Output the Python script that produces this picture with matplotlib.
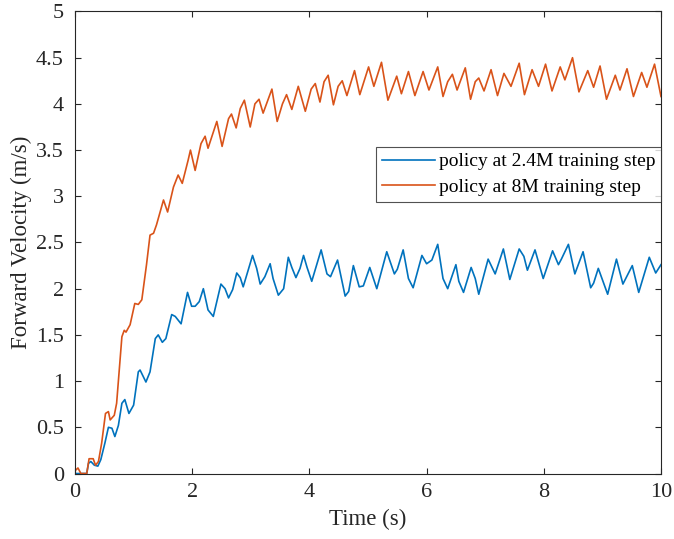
import matplotlib.pyplot as plt

# Forward velocity traces (time in s, velocity in m/s)
t_24m = [
    0.00, 0.20, 0.23, 0.27, 0.33, 0.39, 0.44, 0.51, 0.57, 0.63, 0.68, 0.74, 0.80, 0.85, 0.92,
    1.00, 1.08, 1.11, 1.21, 1.28, 1.37, 1.42, 1.49, 1.55, 1.65, 1.71, 1.81, 1.92, 1.99,
    2.05, 2.12, 2.19, 2.27, 2.36, 2.49, 2.56, 2.62, 2.69, 2.76, 2.82, 2.87,
    3.03, 3.10, 3.16, 3.24, 3.33, 3.38, 3.47, 3.56, 3.64, 3.70, 3.77, 3.84, 3.90, 3.96,
    4.04, 4.20, 4.30, 4.36, 4.48, 4.61, 4.67, 4.75, 4.85, 4.92,
    5.03, 5.15, 5.32, 5.45, 5.50, 5.60, 5.69, 5.77, 5.92,
    6.00, 6.09, 6.19, 6.28, 6.36, 6.50, 6.55, 6.63, 6.76, 6.83, 6.89,
    7.05, 7.17, 7.31, 7.42, 7.58, 7.66, 7.72, 7.85, 7.99,
    8.15, 8.25, 8.30, 8.42, 8.53, 8.67, 8.80, 8.85, 8.93,
    9.09, 9.24, 9.35, 9.51, 9.62, 9.80, 9.91, 10.0,
]
v_24m = [
    0.00, 0.00, 0.11, 0.13, 0.09, 0.08, 0.15, 0.33, 0.50, 0.49, 0.40, 0.52, 0.76, 0.80, 0.65,
    0.74, 1.10, 1.12, 0.99, 1.10, 1.46, 1.50, 1.42, 1.46, 1.72, 1.70, 1.62, 1.96, 1.81,
    1.81, 1.86, 2.00, 1.77, 1.70, 2.05, 2.00, 1.90, 1.99, 2.17, 2.12, 2.02,
    2.36, 2.22, 2.05, 2.13, 2.27, 2.11, 1.93, 2.00, 2.34, 2.23, 2.12, 2.22, 2.36, 2.23,
    2.08, 2.42, 2.16, 2.13, 2.31, 1.92, 1.97, 2.25, 2.02, 2.03,
    2.23, 2.00, 2.40, 2.16, 2.21, 2.42, 2.11, 2.01, 2.36,
    2.27, 2.31, 2.48, 2.11, 2.00, 2.26, 2.08, 1.96, 2.23, 2.11, 1.94,
    2.32, 2.16, 2.43, 2.10, 2.43, 2.35, 2.20, 2.42, 2.11,
    2.41, 2.26, 2.32, 2.48, 2.16, 2.40, 2.01, 2.06, 2.22,
    1.94, 2.32, 2.05, 2.25, 1.96, 2.34, 2.17, 2.26,
]

t_8m = [
    0.00, 0.05, 0.10, 0.20, 0.24, 0.31, 0.35, 0.40, 0.455, 0.52, 0.57, 0.60, 0.67, 0.71,
    0.80, 0.84, 0.87, 0.94, 1.02, 1.08, 1.14, 1.22, 1.28, 1.34, 1.39, 1.51, 1.58, 1.68,
    1.76, 1.83, 1.93, 1.97, 2.05, 2.15, 2.22, 2.27, 2.42, 2.51, 2.62, 2.67, 2.75, 2.82,
    2.89, 2.99, 3.07, 3.14, 3.21, 3.36, 3.45, 3.54, 3.61, 3.70, 3.81, 3.93,
    4.03, 4.10, 4.18, 4.25, 4.32, 4.41, 4.49, 4.56, 4.64, 4.77, 4.86,
    5.01, 5.10, 5.23, 5.34, 5.49, 5.57, 5.69, 5.80, 5.94,
    6.04, 6.19, 6.28, 6.36, 6.44, 6.52, 6.66, 6.75, 6.83, 6.89, 6.98,
    7.10, 7.21, 7.32, 7.44, 7.58, 7.67, 7.80, 7.91,
    8.03, 8.14, 8.28, 8.36, 8.49, 8.60, 8.75, 8.85, 8.96,
    9.07, 9.22, 9.30, 9.42, 9.53, 9.67, 9.76, 9.89, 10.0,
]
v_8m = [
    0.03, 0.06, 0.00, 0.00, 0.16, 0.16, 0.09, 0.13, 0.33, 0.65, 0.67, 0.58, 0.63, 0.76,
    1.48, 1.55, 1.53, 1.61, 1.84, 1.83, 1.88, 2.26, 2.58, 2.60, 2.69, 2.96, 2.83, 3.10,
    3.23, 3.14, 3.39, 3.50, 3.28, 3.57, 3.65, 3.52, 3.81, 3.54, 3.84, 3.89, 3.74, 3.95,
    4.04, 3.75, 4.00, 4.05, 3.90, 4.16, 3.81, 4.00, 4.10, 3.94, 4.19, 3.92,
    4.16, 4.22, 4.02, 4.24, 4.31, 3.99, 4.19, 4.25, 4.09, 4.36, 4.10,
    4.40, 4.19, 4.45, 4.04, 4.30, 4.11, 4.35, 4.09, 4.35,
    4.15, 4.40, 4.08, 4.24, 4.32, 4.15, 4.39, 4.05, 4.24, 4.28, 4.14,
    4.37, 4.09, 4.33, 4.19, 4.44, 4.10, 4.37, 4.19,
    4.43, 4.14, 4.40, 4.26, 4.50, 4.13, 4.36, 4.18, 4.41,
    4.05, 4.31, 4.15, 4.38, 4.08, 4.34, 4.18, 4.43, 4.08,
]

labels = ["policy at 2.4M training step", "policy at 8M training step"]

plt.rcParams["font.family"] = ["Liberation Serif", "DejaVu Serif"]

fig = plt.figure(figsize=(6.74, 5.39), dpi=100)
ax = fig.add_axes([0.1113, 0.1215, 0.8694, 0.8572])

ax.plot(t_24m, v_24m, color="#0072BD", lw=1.2, solid_joinstyle="round", label=labels[0])
ax.plot(t_8m, v_8m, color="#D95319", lw=1.2, solid_joinstyle="round", label=labels[1])

ax.set_xlim(0, 10)
ax.set_ylim(0, 5)
ax.set_xticks([0, 2, 4, 6, 8, 10])
ax.set_yticks([0, 0.5, 1, 1.5, 2, 2.5, 3, 3.5, 4, 4.5, 5])
ax.set_yticklabels(["0", "0.5", "1", "1.5", "2", "2.5", "3", "3.5", "4", "4.5", "5"])
ax.tick_params(direction="in", top=True, right=True, length=4, width=0.8,
               labelsize=16, colors="#262626")
ax.tick_params(axis="y", pad=8)
ax.tick_params(axis="x", pad=7)
for s in ax.spines.values():
    s.set_linewidth(0.8)
    s.set_color("#262626")

ax.set_xlabel("Time (s)", fontsize=16.5, color="#262626", labelpad=5)
ax.set_ylabel("Forward Velocity (m/s)", fontsize=16.5, color="#262626", labelpad=3)

leg = ax.legend(loc="upper right", bbox_to_anchor=(1.0, 0.7067), fontsize=14,
                frameon=True, fancybox=False, edgecolor="#262626",
                handlelength=2.7, handletextpad=0.2, borderpad=0.3,
                labelspacing=0.4, borderaxespad=0)
leg.get_frame().set_linewidth(0.8)

fig.savefig("out.png", dpi=100)
